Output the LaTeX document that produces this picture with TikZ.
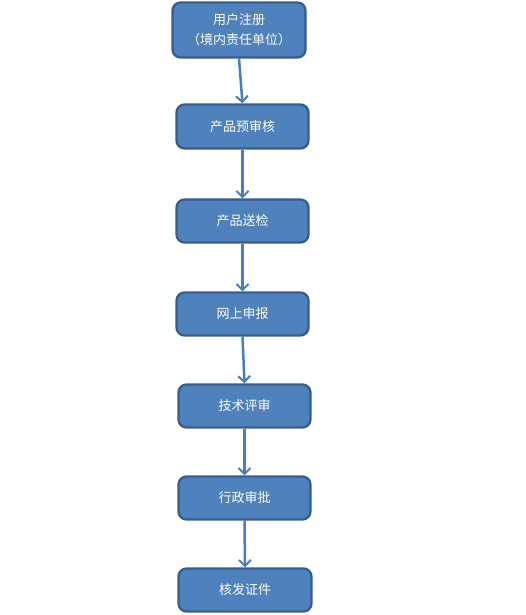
\documentclass[tikz,border=0pt]{standalone}
\usepackage{fontspec}
\newfontfamily\cjk{Noto Sans CJK SC}
\usetikzlibrary{arrows.meta}
\definecolor{boxfill}{HTML}{4F81BD}
\definecolor{boxline}{HTML}{385D8A}
\definecolor{arrowcol}{HTML}{4A7EBB}
\begin{document}
\begin{tikzpicture}[x=1pt,y=-1pt,
  stepbox/.style={draw=boxline,line width=2.3pt,fill=boxfill,rounded corners=8pt,
    text=white,font=\cjk\fontsize{13}{20}\selectfont,align=center,inner sep=0pt},
  link/.style={draw=arrowcol,line width=2.5pt,-{Straight Barb[length=6pt,width=12pt,line width=2pt]}}]
\useasboundingbox (0,0) rectangle (526,615);
\node[stepbox,minimum width=133pt,minimum height=55pt] (n1) at (239,30) {用户注册\\（境内责任单位）};
\node[stepbox,minimum width=132pt,minimum height=44pt] (n2) at (242.5,126.5) {产品预审核};
\node[stepbox,minimum width=132pt,minimum height=43pt] (n3) at (242.5,221) {产品送检};
\node[stepbox,minimum width=132pt,minimum height=43pt] (n4) at (242.5,314) {网上申报};
\node[stepbox,minimum width=132pt,minimum height=43pt] (n5) at (244.5,406) {技术评审};
\node[stepbox,minimum width=132pt,minimum height=43pt] (n6) at (244.5,498) {行政审批};
\node[stepbox,minimum width=133pt,minimum height=43pt] (n7) at (245,590) {核发证件};
\draw[link] (n1.south) -- (n2.north);
\draw[link] (n2.south) -- (n3.north);
\draw[link] (n3.south) -- (n4.north);
\draw[link] (n4.south) -- (n5.north);
\draw[link] (n5.south) -- (n6.north);
\draw[link] (n6.south) -- (n7.north);
\end{tikzpicture}
\end{document}
